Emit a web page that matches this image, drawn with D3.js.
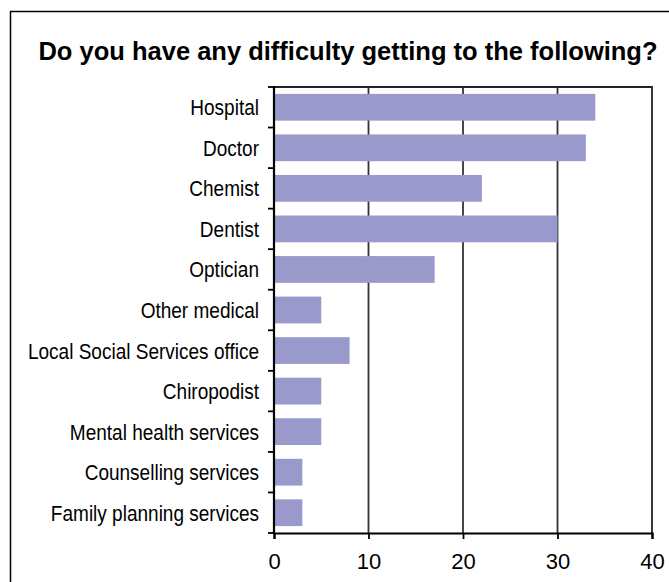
<!DOCTYPE html>
<html>
<head>
<meta charset="utf-8">
<script src="https://cdn.jsdelivr.net/npm/d3@7"></script>
<style>
  html, body { margin: 0; padding: 0; background: #fff; }
  svg { display: block; }
  text { font-family: "Liberation Sans", Arial, Helvetica, sans-serif; fill: #000; }
</style>
</head>
<body>
<svg id="chart" width="669" height="582"></svg>
<script>
// Survey responses: number of people reporting difficulty reaching each service
const categories = [
  "Hospital", "Doctor", "Chemist", "Dentist", "Optician", "Other medical",
  "Local Social Services office", "Chiropodist", "Mental health services",
  "Counselling services", "Family planning services"
];
const values = [34, 33, 22, 30, 17, 5, 8, 5, 5, 3, 3];
const xTicks = [0, 10, 20, 30, 40];
const title = "Do you have any difficulty getting to the following?";

const svg = d3.select("#chart");
const plot = { left: 274, top: 87, right: 652, bottom: 533 };

// outer frame (extends past the right and bottom edges of the canvas)
svg.append("rect")
  .attr("x", 10.5).attr("y", 11.5)
  .attr("width", 670).attr("height", 580)
  .attr("fill", "#fff").attr("stroke", "#000").attr("stroke-width", 1.5);

svg.append("text")
  .attr("x", 348).attr("y", 60)
  .attr("text-anchor", "middle")
  .style("font-weight", "bold").style("font-size", "25.5px")
  .text(title);

const x = d3.scaleLinear().domain([0, 40]).range([plot.left, plot.right]);
const y = d3.scaleBand().domain(categories).range([plot.top, plot.bottom])
  .paddingInner(0.34).paddingOuter(0.17);

// vertical gridlines
svg.append("g").selectAll("line").data(xTicks.slice(1, -1)).join("line")
  .attr("x1", d => x(d)).attr("x2", d => x(d))
  .attr("y1", plot.top).attr("y2", plot.bottom)
  .attr("stroke", "#333").attr("stroke-width", 1.8);

// bars
svg.append("g").selectAll("rect").data(categories).join("rect")
  .attr("x", x(0))
  .attr("y", d => y(d))
  .attr("width", (d, i) => x(values[i]) - x(0))
  .attr("height", y.bandwidth())
  .attr("fill", "#9999CC");

// plot frame (top and right)
svg.append("path")
  .attr("d", `M${plot.left},${plot.top}H${plot.right}V${plot.bottom}`)
  .attr("fill", "none").attr("stroke", "#222").attr("stroke-width", 1.8);

// bottom axis
const xAxis = d3.axisBottom(x).tickValues(xTicks).tickSize(6).tickPadding(14.5);
const gx = svg.append("g").attr("transform", `translate(0,${plot.bottom})`).call(xAxis);
gx.select(".domain").attr("stroke", "#000").attr("stroke-width", 2.2);
gx.selectAll(".tick line").attr("stroke", "#000").attr("stroke-width", 1.8);
gx.selectAll(".tick text")
  .style("font-size", "22px").style("font-family", "'Liberation Sans', Arial, sans-serif")
  .attr("fill", "#000");

// left axis: ticks at band boundaries
const boundaries = d3.range(categories.length + 1).map(i =>
  plot.top + i * (plot.bottom - plot.top) / categories.length);
svg.append("g").selectAll("line").data(boundaries).join("line")
  .attr("x1", plot.left - 6).attr("x2", plot.left)
  .attr("y1", d => d).attr("y2", d => d)
  .attr("stroke", "#000").attr("stroke-width", 1.8);
svg.append("line")
  .attr("x1", plot.left).attr("x2", plot.left)
  .attr("y1", plot.top - 1).attr("y2", plot.bottom + 1)
  .attr("stroke", "#000").attr("stroke-width", 2.2);

// category labels (condensed)
const labelX = 259;
svg.append("g").selectAll("text").data(categories).join("text")
  .attr("transform", d => `translate(${labelX},${y(d) + y.bandwidth() / 2 + 8}) scale(0.865,1)`)
  .attr("text-anchor", "end")
  .style("font-size", "22px")
  .text(d => d);
</script>
</body>
</html>
